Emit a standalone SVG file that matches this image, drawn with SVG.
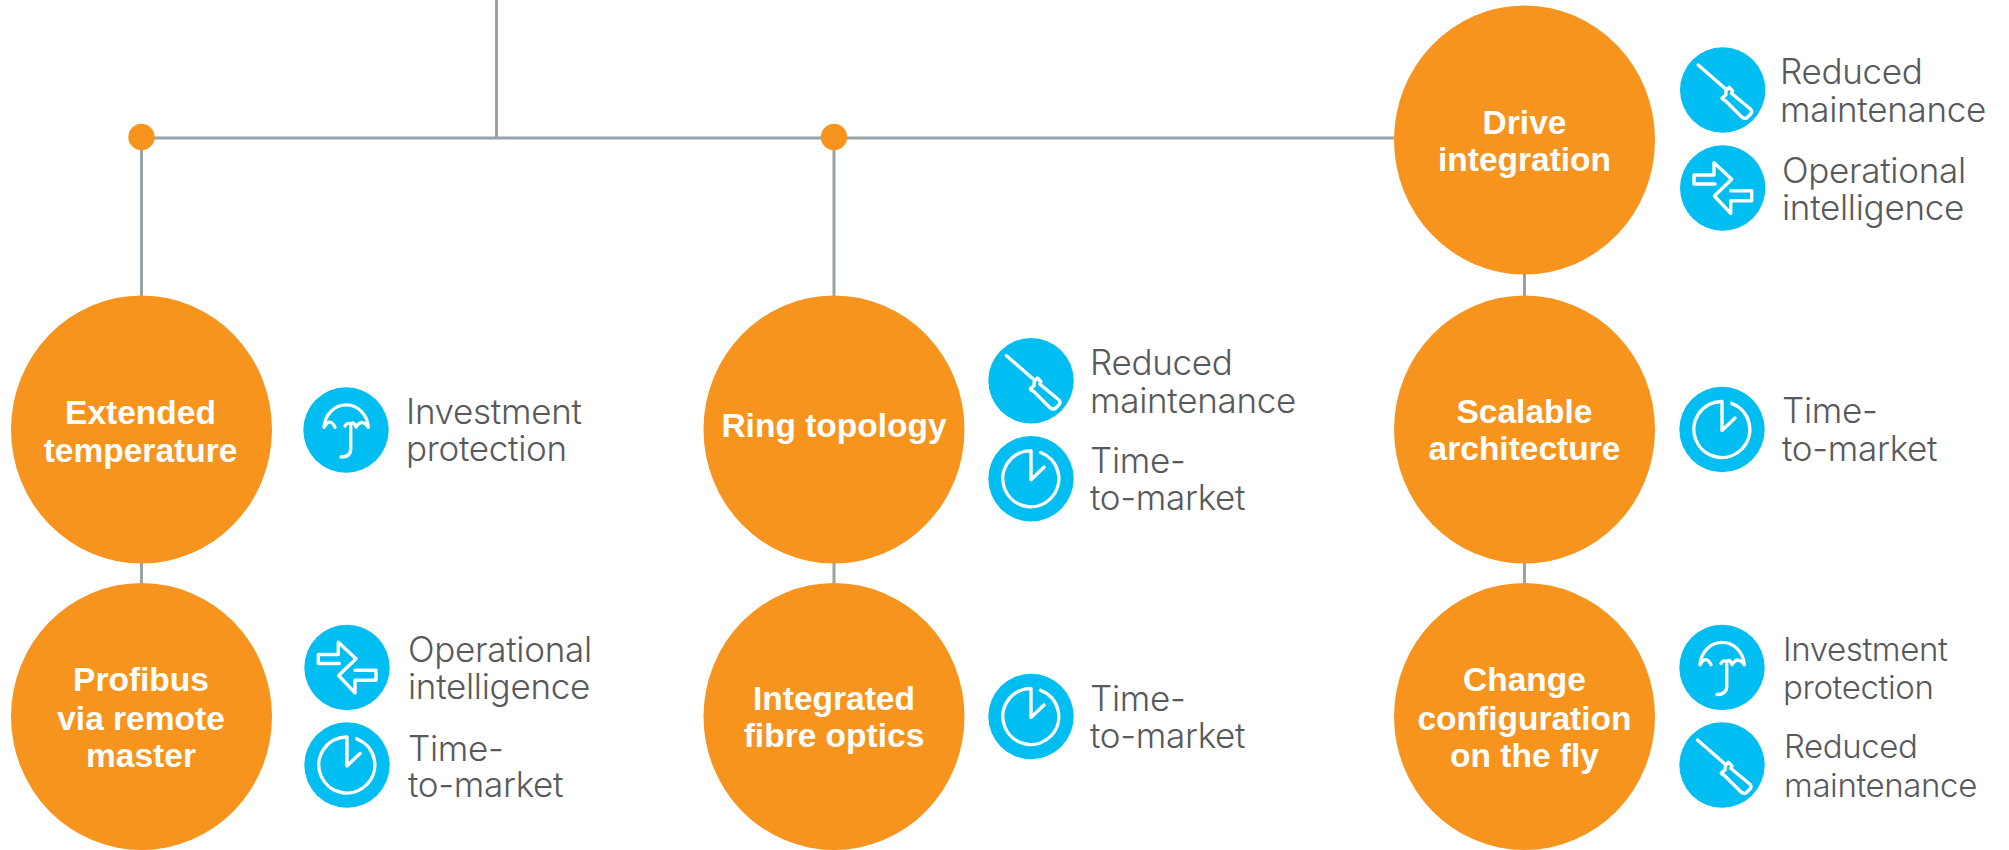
<svg xmlns="http://www.w3.org/2000/svg" width="2009" height="850" viewBox="0 0 2009 850">
<style>
.bg{fill:#fff}
.c{fill:none;stroke:#98a2a8;stroke-width:3}
.n{fill:#f7941e}
.i{fill:#00bdf2}
.g{fill:none;stroke:#fff;stroke-width:3.4;stroke-linejoin:round;stroke-linecap:round}
.t{font-family:"Liberation Sans",Arial,sans-serif;font-weight:700;font-size:33.500px;fill:#fff;text-anchor:middle}
.l{font-family:Inter,"Liberation Sans",sans-serif;font-weight:300;font-size:35px;letter-spacing:-.3px;fill:#58595b}
.s{font-size:33px;letter-spacing:-.4px}
</style>
<defs>
<g id="sd"><circle class="i" r="42.7"/><path class="g" d="M-24.5,-25L3,-1M6.3,-2.7L10,1L8.7,3.3L28,19.3Q30,22 28,24L24,28Q22,29 19.3,27.3L2.700,10.700L0,9.300L-.7,8L3,5L3.300,1Z"/></g>
<g id="ar"><circle class="i" r="42.7"/><path class="g" d="M-7.7,-4H-28.7V-13H-8.7V-25.3L9,-8.7L-8.3,8L8,25.3V12.7H29V2.7H8"/></g>
<g id="cl"><circle class="i" r="42.7"/><path class="g" d="M9.7,-26.2A28,28 0 1 1 0,-28V1L13,-11.5"/></g>
<g id="um"><circle class="i" r="42.7"/><path class="g" d="M-22,-2.700A22.200,24 0 0 1 22.300,-2.700Q16,-12 10,-3Q8,-9 4.700,-6V20Q4,27 -5,27M4.700,-6Q1,-8 -1,-4M-22,-2.700Q-16,-13 -11,-2.700"/></g>
</defs>
<rect class="bg" width="2009" height="850"/>
<g id="connectors">
<path class="c" d="M141.500,137.500V296M496.500,0V138M141.500,138H1394M834,137.500V296M141.500,562V584M834,562V584M1524.500,274V296M1524.500,562V584"/>
</g>
<g id="dot-left"><circle class="n" cx="141.500" cy="137" r="13.200"/></g>
<g id="dot-mid"><circle class="n" cx="834" cy="137" r="13.200"/></g>
<g id="extended-temperature"><ellipse class="n" cx="141.500" cy="429.500" rx="130.500" ry="134"/>
<text class="t" x="140.500" y="424">Extended</text><text class="t" x="140.500" y="462">temperature</text>
<use href="#um" x="346" y="430"/><text class="l" x="406" y="424">Investment</text><text class="l" x="406" y="461">protection</text></g>
<g id="profibus"><ellipse class="n" cx="141.500" cy="716.500" rx="130.500" ry="133.500"/>
<text class="t" x="141" y="691">Profibus</text><text class="t" x="141" y="730">via remote</text><text class="t" x="141" y="767">master</text>
<use href="#ar" x="347" y="667.500"/><text class="l" x="408" y="662">Operational</text><text class="l" x="408" y="699">intelligence</text>
<use href="#cl" x="347" y="765"/><text class="l" x="408" y="761">Time-</text><text class="l" x="408" y="797">to-market</text></g>
<g id="ring-topology"><ellipse class="n" cx="834" cy="429.500" rx="130.500" ry="134"/>
<text class="t" x="834" y="437">Ring topology</text>
<use href="#sd" x="1031" y="380.700"/><text class="l" x="1090" y="375">Reduced</text><text class="l" x="1090" y="413">maintenance</text>
<use href="#cl" x="1031" y="478.700"/><text class="l" x="1090" y="473">Time-</text><text class="l" x="1090" y="510">to-market</text></g>
<g id="integrated-fibre"><ellipse class="n" cx="834" cy="716.500" rx="130.500" ry="133.500"/>
<text class="t" x="834" y="710">Integrated</text><text class="t" x="834" y="747">fibre optics</text>
<use href="#cl" x="1031" y="716.500"/><text class="l" x="1090" y="711">Time-</text><text class="l" x="1090" y="748">to-market</text></g>
<g id="drive-integration"><ellipse class="n" cx="1524.500" cy="140" rx="130.500" ry="134.500"/>
<text class="t" x="1524.500" y="134">Drive</text><text class="t" x="1524.500" y="171">integration</text>
<use href="#sd" x="1722.700" y="90"/><text class="l" x="1780" y="84">Reduced</text><text class="l" x="1780" y="122">maintenance</text>
<use href="#ar" x="1722.700" y="188"/><text class="l" x="1782" y="183">Operational</text><text class="l" x="1782" y="220">intelligence</text></g>
<g id="scalable-architecture"><ellipse class="n" cx="1524.500" cy="429.500" rx="130.500" ry="134"/>
<text class="t" x="1524.500" y="423">Scalable</text><text class="t" x="1524.500" y="460">architecture</text>
<use href="#cl" x="1722" y="429.500"/><text class="l" x="1782" y="423">Time-</text><text class="l" x="1782" y="461">to-market</text></g>
<g id="change-configuration"><ellipse class="n" cx="1524.500" cy="716.500" rx="130.500" ry="133.500"/>
<text class="t" x="1524.500" y="691">Change</text><text class="t" x="1524.500" y="730">configuration</text><text class="t" x="1524.500" y="767">on the fly</text>
<use href="#um" x="1722" y="667.500"/><text class="l s" x="1783" y="661">Investment</text><text class="l s" x="1783" y="699">protection</text>
<use href="#sd" x="1722" y="765"/><text class="l s" x="1784" y="758">Reduced</text><text class="l s" x="1784" y="797">maintenance</text></g>
</svg>
